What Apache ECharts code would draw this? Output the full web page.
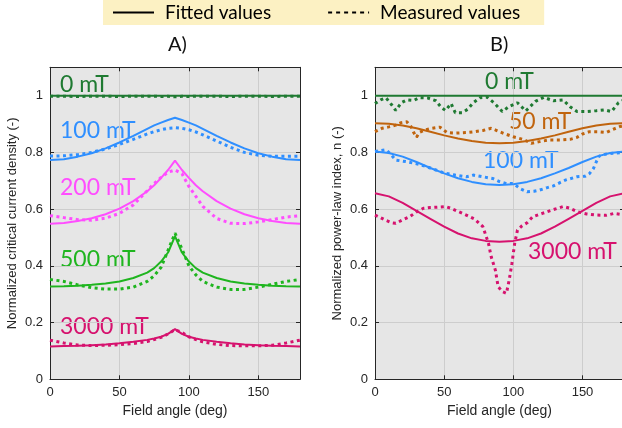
<!DOCTYPE html>
<html>
<head>
<meta charset="utf-8">
<script src="https://cdn.jsdelivr.net/npm/echarts@6/dist/echarts.min.js"></script>
<style>
html, body { margin: 0; padding: 0; background: #fff; }
#chart { width: 622px; height: 428px; }
</style>
</head>
<body>
<div id="chart"></div>
<script>
// panel A: critical current density
var angA = [0, 10, 20, 30, 40, 50, 60, 70, 75, 80, 85, 90, 95, 100, 105, 110, 120, 130, 140, 150, 160, 170, 180];
var fitA0 = [1, 1, 1, 1, 1, 1, 1, 1, 1, 1, 1, 1, 1, 1, 1, 1, 1, 1, 1, 1, 1, 1, 1];
var meaA0 = [0.998, 0.998, 0.997, 0.998, 0.998, 0.997, 0.998, 0.998, 0.998, 0.997, 0.998, 0.996, 0.998, 0.997, 0.998, 0.998, 0.998, 0.997, 0.998, 0.998, 0.997, 0.998, 0.998];
var fitA100 = [0.773, 0.776, 0.785, 0.797, 0.814, 0.835, 0.858, 0.883, 0.895, 0.905, 0.914, 0.922, 0.914, 0.905, 0.895, 0.883, 0.858, 0.835, 0.814, 0.797, 0.785, 0.776, 0.773];
var meaA100 = [0.787, 0.788, 0.792, 0.800, 0.812, 0.828, 0.846, 0.865, 0.873, 0.880, 0.885, 0.887, 0.885, 0.880, 0.872, 0.862, 0.840, 0.818, 0.800, 0.790, 0.786, 0.786, 0.787];
var fitA200 = [0.548, 0.551, 0.558, 0.568, 0.582, 0.602, 0.628, 0.663, 0.684, 0.710, 0.738, 0.771, 0.738, 0.710, 0.684, 0.663, 0.628, 0.602, 0.582, 0.568, 0.558, 0.551, 0.548];
var meaA200 = [0.577, 0.570, 0.563, 0.561, 0.568, 0.585, 0.615, 0.665, 0.690, 0.712, 0.730, 0.738, 0.725, 0.680, 0.645, 0.610, 0.567, 0.550, 0.549, 0.555, 0.563, 0.572, 0.577];
var fitA500 = [0.327, 0.328, 0.330, 0.333, 0.338, 0.345, 0.357, 0.376, 0.392, 0.415, 0.447, 0.505, 0.447, 0.415, 0.392, 0.376, 0.357, 0.345, 0.338, 0.333, 0.330, 0.328, 0.327];
var meaA500 = [0.352, 0.345, 0.333, 0.323, 0.318, 0.318, 0.325, 0.345, 0.365, 0.395, 0.455, 0.515, 0.460, 0.400, 0.368, 0.345, 0.325, 0.317, 0.317, 0.325, 0.335, 0.345, 0.352];
var fitA3000 = [0.116, 0.117, 0.118, 0.120, 0.123, 0.127, 0.132, 0.139, 0.144, 0.150, 0.160, 0.177, 0.160, 0.150, 0.144, 0.139, 0.132, 0.127, 0.123, 0.120, 0.118, 0.117, 0.116];
var meaA3000 = [0.138, 0.128, 0.121, 0.119, 0.120, 0.122, 0.126, 0.133, 0.140, 0.148, 0.160, 0.175, 0.165, 0.150, 0.140, 0.132, 0.123, 0.119, 0.118, 0.118, 0.120, 0.128, 0.138];

// panel B: power-law index
var angBfit = [0, 10, 20, 30, 40, 50, 60, 70, 80, 90, 100, 110, 120, 130, 140, 150, 160, 170, 180];
var fitB0 = [1, 1, 1, 1, 1, 1, 1, 1, 1, 1, 1, 1, 1, 1, 1, 1, 1, 1, 1];
var fitB50 = [0.903, 0.901, 0.895, 0.885, 0.873, 0.860, 0.849, 0.840, 0.834, 0.832, 0.834, 0.840, 0.849, 0.860, 0.873, 0.885, 0.895, 0.901, 0.903];
var fitB100 = [0.803, 0.798, 0.785, 0.766, 0.745, 0.726, 0.709, 0.696, 0.688, 0.685, 0.688, 0.696, 0.709, 0.726, 0.745, 0.766, 0.785, 0.798, 0.803];
var fitB3000 = [0.656, 0.645, 0.622, 0.594, 0.566, 0.538, 0.514, 0.497, 0.488, 0.485, 0.488, 0.497, 0.514, 0.538, 0.566, 0.594, 0.622, 0.645, 0.656];

var angB0 = [0, 4, 8, 12, 15, 19, 23, 28, 32, 38, 44, 48, 51, 55, 58, 63, 67, 71, 76, 81, 86, 92, 97, 103, 109, 116, 122, 129, 136, 141, 146, 153, 160, 166, 171, 176, 180];
var meaB0 = [0.972, 0.985, 0.992, 0.968, 0.948, 0.975, 0.985, 0.983, 0.993, 0.992, 0.982, 0.958, 0.948, 0.972, 0.940, 0.940, 0.952, 0.975, 0.993, 0.995, 0.975, 0.944, 0.962, 0.975, 0.946, 0.980, 0.994, 0.982, 0.985, 0.961, 0.944, 0.944, 0.947, 0.950, 0.944, 0.975, 0.985];
var angB50 = [0, 5, 10, 15, 19, 23, 26, 28, 30, 32, 36, 41, 47, 52, 58, 66, 72, 78, 84, 88, 93, 100, 107, 113, 119, 126, 134, 141, 146, 150, 155, 161, 167, 172, 177, 180];
var meaB50 = [0.873, 0.885, 0.890, 0.896, 0.905, 0.908, 0.891, 0.870, 0.853, 0.870, 0.879, 0.885, 0.889, 0.870, 0.868, 0.870, 0.873, 0.877, 0.885, 0.877, 0.867, 0.855, 0.846, 0.832, 0.838, 0.844, 0.844, 0.846, 0.853, 0.865, 0.873, 0.873, 0.870, 0.881, 0.891, 0.893];
var angB100 = [0, 4, 8, 12, 15, 19, 23, 30, 37, 44, 51, 58, 66, 71, 78, 85, 90, 95, 100, 105, 110, 115, 119, 124, 129, 134, 138, 146, 152, 155, 158, 160, 162, 167, 172, 177, 180];
var meaB100 = [0.803, 0.806, 0.809, 0.790, 0.773, 0.770, 0.767, 0.760, 0.750, 0.738, 0.726, 0.720, 0.714, 0.720, 0.714, 0.708, 0.697, 0.690, 0.690, 0.672, 0.661, 0.663, 0.667, 0.675, 0.682, 0.694, 0.703, 0.714, 0.716, 0.725, 0.744, 0.767, 0.787, 0.794, 0.797, 0.799, 0.800];
var angB3000 = [0, 4, 8, 12, 15, 20, 25, 30, 35, 40, 45, 51, 55, 60, 66, 72, 78, 82, 84, 87, 89, 92, 95, 97, 99, 101, 103, 106, 110, 114, 121, 128, 136, 141, 146, 153, 160, 167, 173, 180];
var meaB3000 = [0.579, 0.570, 0.560, 0.552, 0.550, 0.562, 0.573, 0.590, 0.603, 0.606, 0.607, 0.609, 0.603, 0.592, 0.579, 0.565, 0.538, 0.480, 0.432, 0.385, 0.327, 0.309, 0.303, 0.350, 0.409, 0.480, 0.526, 0.540, 0.552, 0.573, 0.585, 0.597, 0.609, 0.603, 0.591, 0.583, 0.579, 0.578, 0.585, 0.580];

var cDark = '#1f7a32';
var cBlue = '#2f8fff';
var cPink = '#ff4dff';
var cGreen = '#1fb51f';
var cRed = '#d6126e';
var cOrange = '#c0640e';
var axisCol = '#262626';
var fontTxt = 'Lato, "Noto Sans", sans-serif';

function pairs(xs, ys) {
	var out = [];
	for (var i = 0; i < xs.length; i++) {
		out.push([xs[i], ys[i]]);
	}
	return out;
}

function fitted(g, xs, ys, col) {
	return {
		type : 'line', xAxisIndex : g * 2, yAxisIndex : g * 2,
		data : pairs(xs, ys), symbol : 'none', silent : true,
		lineStyle : { color : col, width : 2 }, z : 3
	};
}

function measured(g, xs, ys, col) {
	return {
		type : 'line', xAxisIndex : g * 2, yAxisIndex : g * 2,
		data : pairs(xs, ys), symbol : 'none', silent : true,
		lineStyle : { color : col, width : 3, type : [3, 3.5] }, z : 4
	};
}

function xAx(g, pos) {
	var main = pos === 'bottom';
	return {
		type : 'value', gridIndex : g, position : pos, min : 0, max : 180, interval : 50,
		name : main ? 'Field angle (deg)' : '', nameLocation : 'middle', nameGap : 25,
		nameTextStyle : { color : axisCol, fontSize : 14, fontFamily : 'Liberation Sans' },
		axisLine : { show : true, onZero : false, lineStyle : { color : axisCol } },
		axisTick : { show : true, inside : true, length : 4, lineStyle : { color : axisCol } },
		axisLabel : { show : main, showMaxLabel : false, color : axisCol, fontSize : 13, fontFamily : 'Liberation Sans', margin : 7,
			formatter : function(v) { return v > 170 ? '' : String(v); } },
		splitLine : { show : main, lineStyle : { color : '#cdcdcd' } }
	};
}

function yAx(g, pos, title) {
	var main = pos === 'left';
	return {
		type : 'value', gridIndex : g, position : pos, min : 0, max : 1.1, interval : 0.2,
		name : main ? title : '', nameLocation : 'middle', nameGap : 31,
		nameTextStyle : { color : axisCol, fontSize : 13, fontFamily : 'Liberation Sans' },
		axisLine : { show : true, onZero : false, lineStyle : { color : axisCol } },
		axisTick : { show : true, inside : true, length : 4, lineStyle : { color : axisCol } },
		axisLabel : { show : main, showMaxLabel : false, color : axisCol, fontSize : 13, fontFamily : 'Liberation Sans', margin : 7,
			formatter : function(v) { return v > 1.05 ? '' : String(+v.toFixed(1)); } },
		splitLine : { show : main, lineStyle : { color : '#cdcdcd' } }
	};
}

function label(x, y, txt, col) {
	return {
		type : 'text', left : x, top : y,
		style : { text : txt, fill : col, font : '23px ' + fontTxt }
	};
}

var chart = echarts.init(document.getElementById('chart'));
var option = {
	animation : false,
	backgroundColor : '#fff',
	legend : {
		left : 103, top : 0, padding : [3, 24, 3, 9],
		backgroundColor : '#fcf1c3',
		itemWidth : 41, itemHeight : 14, itemGap : 56,
		itemStyle : { opacity : 0 },
		data : [ 'Fitted values', 'Measured values' ],
		textStyle : { color : '#000', fontSize : 19, fontFamily : fontTxt, padding : [0, 0, 0, 6] }
	},
	grid : [
		{ left : 50, top : 67.3, width : 250, height : 312, show : true, backgroundColor : '#e6e6e6', borderWidth : 0, outerBoundsMode : 'none', containLabel : false },
		{ left : 375, top : 67.3, width : 249, height : 312, show : true, backgroundColor : '#e6e6e6', borderWidth : 0, outerBoundsMode : 'none', containLabel : false }
	],
	xAxis : [ xAx(0, 'bottom'), xAx(0, 'top'), xAx(1, 'bottom'), xAx(1, 'top') ],
	yAxis : [
		yAx(0, 'left', 'Normalized critical current density (-)'), yAx(0, 'right'),
		yAx(1, 'left', 'Normalized power-law index, n (-)'), yAx(1, 'right')
	],
	graphic : [
		{ type : 'text', left : 168, top : 35, style : { text : 'A)', fill : '#111', font : '20px ' + fontTxt } },
		{ type : 'text', left : 490, top : 35, style : { text : 'B)', fill : '#111', font : '20px ' + fontTxt } },
		label(60, 73, '0 mT', cDark),
		label(60, 119, '100 mT', cBlue),
		label(60, 176, '200 mT', cPink),
		label(60, 248, '500 mT', cGreen),
		label(60, 315, '3000 mT', cRed),
		label(485, 70, '0 mT', cDark),
		label(509, 110, '50 mT', cOrange),
		label(483, 149, '100 mT', cBlue),
		label(528, 240, '3000 mT', cRed)
	],
	series : [
		{ name : 'Fitted values', type : 'line', data : [], symbol : 'none', itemStyle : { color : '#000' }, lineStyle : { color : '#000', width : 3 } },
		{ name : 'Measured values', type : 'line', data : [], symbol : 'none', itemStyle : { color : '#000' }, lineStyle : { color : '#000', width : 4, type : [4, 4] } },
		measured(0, angA, meaA0, cDark), fitted(0, angA, fitA0, cDark),
		measured(0, angA, meaA100, cBlue), fitted(0, angA, fitA100, cBlue),
		measured(0, angA, meaA200, cPink), fitted(0, angA, fitA200, cPink),
		measured(0, angA, meaA500, cGreen), fitted(0, angA, fitA500, cGreen),
		measured(0, angA, meaA3000, cRed), fitted(0, angA, fitA3000, cRed),
		fitted(1, angBfit, fitB0, cDark), measured(1, angB0, meaB0, cDark),
		fitted(1, angBfit, fitB50, cOrange), measured(1, angB50, meaB50, cOrange),
		fitted(1, angBfit, fitB100, cBlue), measured(1, angB100, meaB100, cBlue),
		fitted(1, angBfit, fitB3000, cRed), measured(1, angB3000, meaB3000, cRed)
	]
};
chart.setOption(option);
</script>
</body>
</html>
